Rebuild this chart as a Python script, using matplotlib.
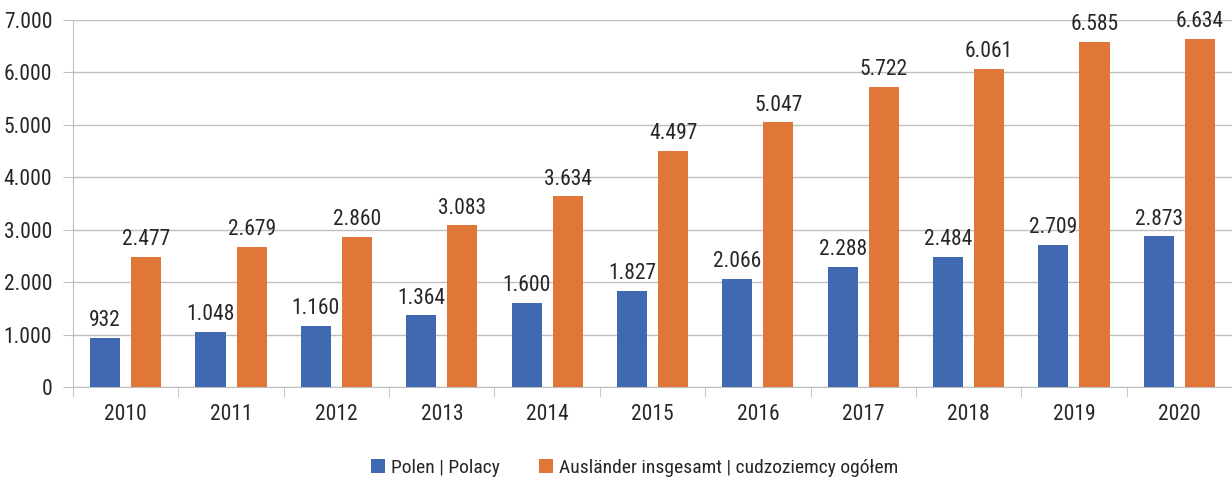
import matplotlib
matplotlib.use("Agg")
import matplotlib.pyplot as plt
import numpy as np
from matplotlib import font_manager

years = ["2010", "2011", "2012", "2013", "2014", "2015", "2016", "2017", "2018", "2019", "2020"]
polen = [932, 1048, 1160, 1364, 1600, 1827, 2066, 2288, 2484, 2709, 2873]
auslaender = [2477, 2679, 2860, 3083, 3634, 4497, 5047, 5722, 6061, 6585, 6634]
series_names = ["Polen | Polacy", "Ausländer insgesamt | cudzoziemcy ogółem"]
yticks = [0, 1000, 2000, 3000, 4000, 5000, 6000, 7000]

# find a condensed / narrow font if one is installed
cands = []
for f in font_manager.fontManager.ttflist:
    nm = f.name + " " + f.fname
    st = str(f.stretch)
    narrow = ("Narrow" in nm or "Condensed" in nm or "condensed" in st)
    if narrow and f.style == "normal" and f.weight in (400, "normal", "regular", "book") \
            and "Semi" not in nm and "Extra" not in nm and "Bold" not in f.fname and "Light" not in f.fname:
        cands.append(f)
pref = ["Liberation Sans Narrow", "Roboto Condensed", "Open Sans Condensed", "Noto Sans", "DejaVu Sans", "Arial Narrow"]
cands.sort(key=lambda f: pref.index(f.name) if f.name in pref else 99)
if cands:
    fp = font_manager.FontProperties(fname=cands[0].fname)
    size = 15.5
    lsize = 14
else:
    fp = font_manager.FontProperties(family="DejaVu Sans")
    size = 13
    lsize = 12

def fmt(v):
    return f"{v:,}".replace(",", ".")

fig = plt.figure(figsize=(12.32, 4.83), dpi=100)
ax = fig.add_axes([73/1232, (483-387)/483, 1 - 73/1232, (387-20)/483])

x = np.arange(len(years))
w = 0.285
off = 0.195
c1 = "#4169B2"
c2 = "#E07638"
b1 = ax.bar(x - off, polen, w, color=c1, label=series_names[0], zorder=3)
b2 = ax.bar(x + off, auslaender, w, color=c2, label=series_names[1], zorder=3)

tc = "#262626"
for xi, v in zip(x - off, polen):
    ax.text(xi, v + 130, fmt(v), ha="center", va="bottom", fontproperties=fp, fontsize=size, color=tc)
for xi, v in zip(x + off, auslaender):
    ax.text(xi, v + 130, fmt(v), ha="center", va="bottom", fontproperties=fp, fontsize=size, color=tc)

ax.set_xlim(-0.5, len(years) - 0.5)
ax.set_ylim(0, 7000)
ax.set_yticks(yticks)
ax.set_yticklabels([fmt(t) for t in yticks], color=tc)
ax.set_xticks(x)
ax.set_xticklabels(years, color=tc)
for lab in ax.get_yticklabels() + ax.get_xticklabels():
    lab.set_fontproperties(fp)
    lab.set_fontsize(size)
ax.tick_params(axis="x", length=0, pad=12)
ax.tick_params(axis="y", length=7, color="#BFBFBF", pad=8)
ax.set_xticks(np.arange(-0.5, len(years) + 0.5, 1), minor=True)
ax.tick_params(axis="x", which="minor", length=7, color="#BFBFBF")
ax.grid(axis="y", color="#BFBFBF", linewidth=1, zorder=0)
for s in ["top", "right"]:
    ax.spines[s].set_visible(False)
ax.spines["left"].set_color("#BFBFBF")
ax.spines["bottom"].set_color("#BFBFBF")

lp = fp.copy()
lp.set_size(lsize)
leg = fig.legend(handles=[b1, b2], labels=series_names, loc="center", bbox_to_anchor=(0.515, (483-468)/483),
                 ncol=2, frameon=False, prop=lp, handlelength=0.75, handleheight=0.75,
                 columnspacing=2.0, handletextpad=0.3)
for t in leg.get_texts():
    t.set_color(tc)

fig.savefig("out.png", dpi=100)
